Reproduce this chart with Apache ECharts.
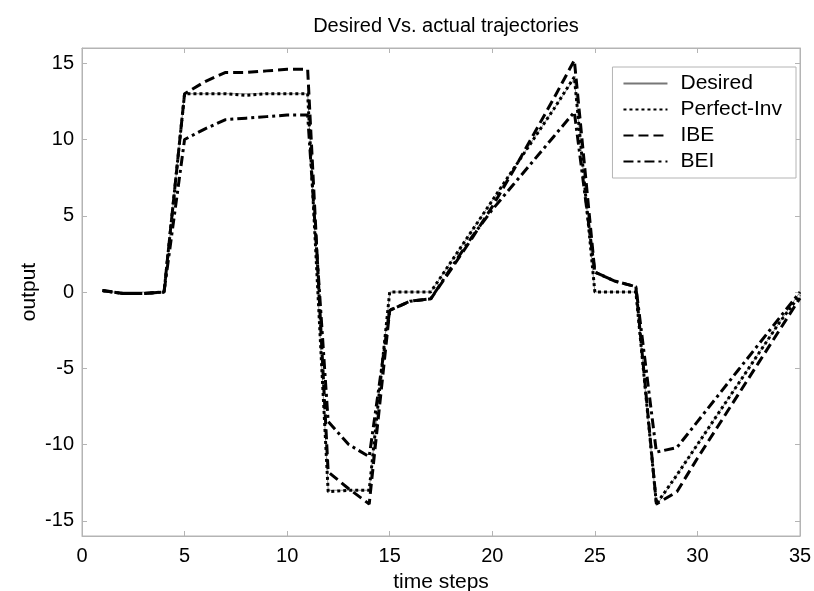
<!DOCTYPE html>
<html lang="en">
<head>
    <meta charset="utf-8">
    <title>Desired Vs. actual trajectories</title>
    <script src="https://cdn.jsdelivr.net/npm/echarts@6/dist/echarts.min.js"></script>
    <style>
        html, body { margin: 0; padding: 0; background: #fff; }
        #main { width: 814px; height: 591px; }
    </style>
</head>
<body>
    <div id="main"></div>
    <script type="text/javascript">
        // time steps 1..35
        var steps = [1,2,3,4,5,6,7,8,9,10,11,12,13,14,15,16,17,18,19,20,21,22,23,24,25,26,27,28,29,30,31,32,33,34,35];

        var desired = [0,0,0,0,13,13,13,13,13,13,13,-13,-13,-13,0,0,0,2,4,6,8,10,12,14,0,0,0,-14,-12,-10,-8,-6,-4,-2,0];
        var perfectInv = [0.1,-0.1,-0.1,0,13,13,13,12.9,13,13,13,-13.1,-13,-13,0,0,0,2,4,6,8,10,12,14.1,0,0,0,-13.9,-12,-10,-8,-6,-4,-2,-0.2];
        var ibe = [0.1,-0.1,-0.1,0,13,13.8,14.4,14.4,14.5,14.6,14.6,-11.8,-12.9,-13.9,-1.2,-0.6,-0.45,1.5,3.5,5.6,7.9,10.3,12.7,15.2,1.3,0.7,0.35,-13.9,-13.1,-10.9,-8.8,-6.7,-4.6,-2.5,-0.4];
        var bei = [0.1,-0.1,-0.1,0,10,10.7,11.3,11.4,11.5,11.6,11.6,-8.5,-10.0,-10.8,-1.2,-0.6,-0.45,1.6,3.6,5.4,7.0,8.6,10.2,11.8,1.3,0.7,0.35,-10.5,-10.2,-8.5,-6.8,-5.1,-3.4,-1.7,0];

        var xTicks = [0,5,10,15,20,25,30,35];
        var yTicks = [-15,-10,-5,0,5,10,15];

        function pairs(arr) {
            return steps.map(function (t, i) { return [t, arr[i]]; });
        }

        var font = 'Liberation Sans, Arial, sans-serif';
        var frameColor = '#b4b4b4';
        var tickStyle = { inside: true, length: 5, lineStyle: { color: frameColor } };

        var myChart = echarts.init(document.getElementById('main'));
        var option = {
            animation: false,
            backgroundColor: '#fff',
            title: {
                text: 'Desired Vs. actual trajectories',
                left: 441,
                top: 11,
                textAlign: 'center',
                textStyle: { fontFamily: font, fontSize: 20, fontWeight: 'normal', color: '#000' }
            },
            legend: {
                right: 18,
                top: 67,
                orient: 'vertical',
                itemWidth: 44,
                itemHeight: 14,
                itemGap: 5,
                padding: [6, 14, 6, 10],
                borderColor: frameColor,
                borderWidth: 1,
                backgroundColor: '#fff',
                itemStyle: { opacity: 0 },
                textStyle: { fontFamily: font, fontSize: 21, color: '#000', padding: [0, 0, 0, 8] },
                data: ['Desired', 'Perfect-Inv', 'IBE', 'BEI']
            },
            grid: {
                left: 82,
                right: 14,
                top: 48,
                bottom: 55,
                outerBoundsMode: 'none',
                show: true,
                borderColor: frameColor,
                borderWidth: 1
            },
            xAxis: [{
                type: 'value',
                min: 0,
                max: 35,
                interval: 5,
                name: 'time steps',
                nameLocation: 'middle',
                nameGap: 36,
                nameMoveOverlap: false,
                nameTextStyle: { fontFamily: font, fontSize: 21, color: '#000' },
                axisLine: { onZero: false, lineStyle: { color: frameColor } },
                axisTick: tickStyle,
                axisLabel: { fontFamily: font, fontSize: 20, color: '#000', margin: 10, customValues: xTicks },
                splitLine: { show: false }
            }, {
                type: 'value',
                position: 'top',
                min: 0,
                max: 35,
                interval: 5,
                axisLine: { onZero: false, lineStyle: { color: frameColor } },
                axisTick: tickStyle,
                axisLabel: { show: false },
                splitLine: { show: false }
            }],
            yAxis: [{
                type: 'value',
                min: -16,
                max: 16,
                name: 'output',
                nameLocation: 'middle',
                nameGap: 42,
                nameMoveOverlap: false,
                nameTextStyle: { fontFamily: font, fontSize: 21, color: '#000' },
                axisLine: { show: true, onZero: false, lineStyle: { color: frameColor } },
                axisTick: { inside: true, length: 5, customValues: yTicks, lineStyle: { color: frameColor } },
                axisLabel: { fontFamily: font, fontSize: 20, color: '#000', margin: 8, customValues: yTicks },
                splitLine: { show: false }
            }, {
                type: 'value',
                position: 'right',
                min: -16,
                max: 16,
                axisLine: { show: true, onZero: false, lineStyle: { color: frameColor } },
                axisTick: { inside: true, length: 5, customValues: yTicks, lineStyle: { color: frameColor } },
                axisLabel: { show: false },
                splitLine: { show: false }
            }],
            series: [
                {
                    name: 'Desired',
                    type: 'line',
                    symbol: 'none',
                    data: pairs(desired),
                    z: 1,
                    color: '#999',
                    lineStyle: { color: '#777', width: 0.8, type: 'solid' }
                },
                {
                    name: 'Perfect-Inv',
                    type: 'line',
                    symbol: 'none',
                    data: pairs(perfectInv),
                    z: 2,
                    color: '#000',
                    lineStyle: { color: '#000', width: 3, type: [3, 3] }
                },
                {
                    name: 'IBE',
                    type: 'line',
                    symbol: 'none',
                    data: pairs(ibe),
                    z: 3,
                    color: '#000',
                    lineStyle: { color: '#000', width: 3, type: [10, 5] }
                },
                {
                    name: 'BEI',
                    type: 'line',
                    symbol: 'none',
                    data: pairs(bei),
                    z: 4,
                    color: '#000',
                    lineStyle: { color: '#000', width: 3, type: [10, 4, 3, 4] }
                }
            ]
        };
        myChart.setOption(option);
    </script>
</body>
</html>
